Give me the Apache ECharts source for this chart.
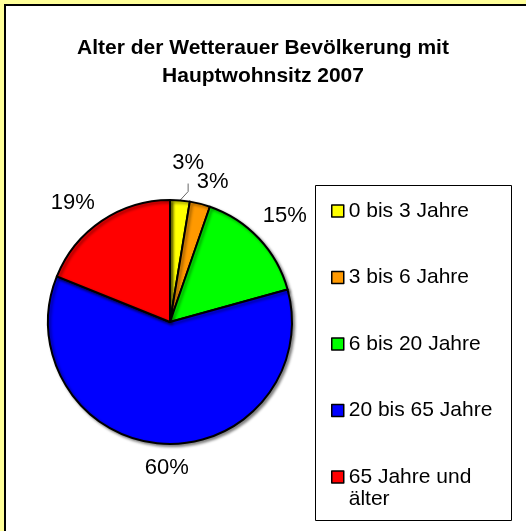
<!DOCTYPE html>
<html>
<head>
<meta charset="utf-8">
<script src="https://cdn.jsdelivr.net/npm/echarts@6/dist/echarts.min.js"></script>
<style>
html,body{margin:0;padding:0;background:#ffff99}
#chart{width:526px;height:531px}
</style>
</head>
<body>
<div id="chart"></div>
<script>
const titleText = "Alter der Wetterauer Bevölkerung mit\nHauptwohnsitz 2007"
const categories = ["0 bis 3 Jahre", "3 bis 6 Jahre", "6 bis 20 Jahre", "20 bis 65 Jahre", "65 Jahre und älter"]
const shares = [2.6, 2.7, 15.4, 60.4, 18.9]
const colors = ["#ffff00", "#ff9900", "#00ff00", "#0000ff", "#ff0000"]

const font = "Liberation Sans, Arial, sans-serif"
const cx = 170, cy = 322, r = 122
// distance of each percent label from the pie centre, plus a small nudge like Excel does
const labelRadius = [161, 145, 156, 145, 156]
const labelNudge = [[5, 1], [7, 0], [1, 1], [5, 1], [-10, 10]]

const total = shares.reduce((a, b) => a + b, 0)
const midAngle = shares.map((v, i) => {
  const before = shares.slice(0, i).reduce((a, b) => a + b, 0)
  return (before + v / 2) / total * Math.PI * 2
})

const chart = echarts.init(document.getElementById("chart"))

const pieData = categories.map((name, i) => {
  const item = { name, value: shares[i], itemStyle: { color: colors[i] } }
  if (i === 0) item.labelLine = { show: true, lineStyle: { color: "#666", width: 1 } }
  return item
})

chart.setOption({
  backgroundColor: "#ffff99",
  animation: false,
  graphic: [
    { type: "rect", z: -10, shape: { x: 5, y: 5, width: 540, height: 540 },
      style: { fill: "#ffffff", stroke: "#000", lineWidth: 2 } },
    { type: "rect", z: -9, shape: { x: 315.5, y: 185.5, width: 196, height: 335 },
      style: { fill: "#ffffff", stroke: "#000", lineWidth: 1 } }
  ],
  title: {
    text: titleText, left: "center", top: 29,
    textStyle: { fontFamily: font, fontSize: 21, fontWeight: "bold", color: "#000", lineHeight: 28 }
  },
  legend: {
    orient: "vertical", left: 331, top: 178, height: 420, padding: 0,
    itemWidth: 12, itemHeight: 12, itemGap: 0.5,
    icon: "rect",
    itemStyle: { borderColor: "#000", borderWidth: 1.5 },
    textStyle: { fontFamily: font, fontSize: 21, color: "#000", lineHeight: 22 },
    // an empty first line keeps the icon level with the first text line
    formatter: name => name === "65 Jahre und älter" ? "\n65 Jahre und\nälter" : "\n" + name + "\n",
    data: categories
  },
  series: [{
    type: "pie",
    center: [cx, cy],
    radius: r,
    startAngle: 90,
    clockwise: true,
    avoidLabelOverlap: false,
    minShowLabelAngle: 0,
    itemStyle: { borderColor: "#000", borderWidth: 2, shadowColor: "rgba(0,0,0,0.45)", shadowBlur: 3, shadowOffsetX: 2, shadowOffsetY: 2 },
    label: {
      show: true, position: "outside", overflow: "none",
      formatter: p => Math.round(p.value) + "%",
      fontFamily: font, fontSize: 22, color: "#000"
    },
    labelLine: { show: false, length: 15, length2: 0 },
    labelLayout: p => {
      const i = p.dataIndex, a = midAngle[i], d = labelRadius[i]
      const x = cx + d * Math.sin(a) + labelNudge[i][0]
      const y = cy - d * Math.cos(a) + labelNudge[i][1]
      const out = { x, y, align: "center", verticalAlign: "middle", hideOverlap: false, moveOverlap: null }
      if (i === 0) {
        const ex = cx + r * Math.sin(a), ey = cy - r * Math.cos(a)
        out.labelLinePoints = [[ex, ey], [x, y + 29], [x, y + 21]]
      }
      return out
    },
    emphasis: { disabled: true },
    data: pieData
  }]
})
</script>
</body>
</html>
